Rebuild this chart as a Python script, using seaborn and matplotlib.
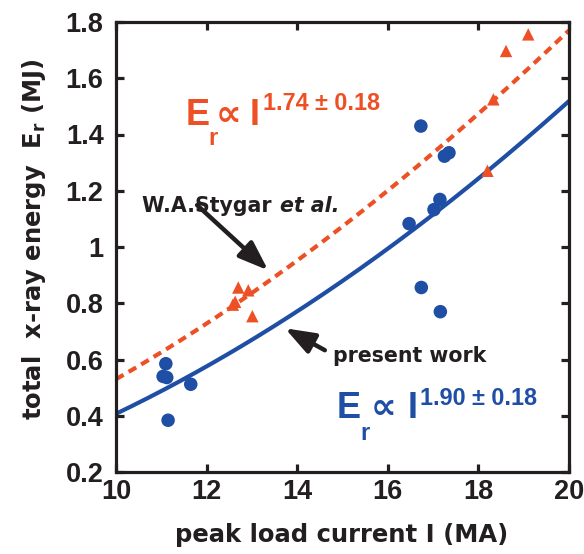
import numpy as np
import pandas as pd
import matplotlib
matplotlib.use("Agg")
import matplotlib.pyplot as plt
import seaborn as sns

# ---- data -------------------------------------------------------------
# present work (blue circles): peak load current (MA), total x-ray energy (MJ)
present_I = [11.10, 11.04, 11.12, 11.65, 11.15, 16.47, 16.73, 17.02, 17.15,
             17.25, 17.35, 16.74, 17.16]
present_E = [0.585, 0.540, 0.536, 0.512, 0.384, 1.083, 1.430, 1.133, 1.169,
             1.323, 1.335, 0.856, 0.770]

# W.A.Stygar et al. (orange triangles)
stygar_I = [12.70, 12.92, 12.63, 12.58, 13.01, 18.20, 18.33, 18.61, 19.10]
stygar_E = [0.856, 0.846, 0.805, 0.795, 0.754, 1.271, 1.525, 1.697, 1.756]

# power-law fits E = E(10 MA) * (I / 10)^n
present_exp, present_err, present_E10 = 1.90, 0.18, 0.407
stygar_exp, stygar_err, stygar_E10 = 1.74, 0.18, 0.53

x_ticks = [10, 12, 14, 16, 18, 20]
y_ticks = [0.2, 0.4, 0.6, 0.8, 1.0, 1.2, 1.4, 1.6, 1.8]
y_tick_labels = ["0.2", "0.4", "0.6", "0.8", "1", "1.2", "1.4", "1.6", "1.8"]

BLUE = "#1f4ea5"
ORANGE = "#ee5026"
INK = "#231f20"

# ---- figure -----------------------------------------------------------
sns.set_style("ticks")
plt.rcParams["font.family"] = ["DejaVu Sans"]
plt.rcParams["font.weight"] = "bold"

W, H = 584, 554
fig = plt.figure(figsize=(W / 100, H / 100), dpi=100)
ax = fig.add_axes([116 / W, 1 - 472 / H, (569 - 116) / W, (472 - 22) / H])

I_grid = np.linspace(10, 20, 200)
fits = pd.DataFrame({
    "I": np.concatenate([I_grid, I_grid]),
    "E": np.concatenate([present_E10 * (I_grid / 10) ** present_exp,
                         stygar_E10 * (I_grid / 10) ** stygar_exp]),
    "fit": ["present"] * len(I_grid) + ["stygar"] * len(I_grid),
})

sns.lineplot(data=fits[fits.fit == "present"], x="I", y="E", color=BLUE,
             lw=3.0, ax=ax, legend=False, zorder=2)
sns.lineplot(data=fits[fits.fit == "stygar"], x="I", y="E", color=ORANGE,
             lw=3.0, ax=ax, legend=False, zorder=2, dashes=False,
             linestyle=(0, (2.1, 1.4)))

sns.scatterplot(x=present_I, y=present_E, color=BLUE, s=95, marker="o",
                edgecolor="none", ax=ax, zorder=3)
sns.scatterplot(x=stygar_I, y=stygar_E, color=ORANGE, s=80, marker="^",
                edgecolor="none", ax=ax, zorder=3)

# ---- axes -------------------------------------------------------------
ax.set_xlim(10, 20)
ax.set_ylim(0.2, 1.8)
ax.set_xticks(x_ticks)
ax.set_yticks(y_ticks)
ax.set_yticklabels(y_tick_labels)
for s in ax.spines.values():
    s.set_visible(True)
    s.set_linewidth(2.3)
    s.set_color(INK)
ax.tick_params(which="both", direction="in", length=6, width=2.3, color=INK,
               top=True, right=True, labelcolor=INK)
ax.tick_params(axis="x", pad=5)
ax.tick_params(axis="y", pad=9)
for lab in ax.get_xticklabels() + ax.get_yticklabels():
    lab.set_fontfamily(["Liberation Sans", "DejaVu Sans"])
    lab.set_fontweight("bold")
    lab.set_fontsize(19.5)

ax.set_xlabel("peak load current I (MA)", fontsize=17.5, fontweight="bold",
              color=INK, va="top")
ax.xaxis.set_label_coords(0.497, -0.113)
ax.set_ylabel(r"total  x-ray energy  E$_{\mathbf{r}}$ (MJ)", fontsize=17.5,
              fontweight="bold", color=INK)
ax.yaxis.set_label_coords(-0.15, 0.518)

# ---- annotations ------------------------------------------------------
arrow = dict(arrowstyle="-|>,head_length=0.9,head_width=0.33", lw=3.2,
             color=INK, shrinkA=0, shrinkB=0, mutation_scale=20)
ax.annotate("", xy=(13.36, 0.917), xytext=(11.79, 1.149), arrowprops=arrow)
ax.annotate("", xy=(13.73, 0.711), xytext=(14.61, 0.633), arrowprops=arrow)

ax.text(10.57, 1.124, "W.A.Stygar ", fontsize=14.8, fontweight="bold",
        color=INK, ha="left", va="baseline")
ax.annotate("et al.", xy=(10.57, 1.124), xytext=(138, 0),
            textcoords="offset pixels", fontsize=14.8, fontweight="bold",
            fontstyle="italic", color=INK, ha="left", va="baseline")
ax.text(14.79, 0.590, "present work", fontsize=14.8, fontweight="bold",
        color=INK, ha="left", va="baseline")


def power_law_label(x, y, exponent, err, color, offsets):
    """Write E_r ∝ I^(n ± err) from pieces anchored at a data point."""
    fam = ["Liberation Sans", "DejaVu Sans"]
    pieces = [("E", 26), ("r", 17), ("\u221d", 26), ("I", 26),
              (f"{exponent:.2f} \u00b1 {err:.2f}", 16.8)]
    for (txt, size), (dx, dy) in zip(pieces, offsets):
        ax.annotate(txt, xy=(x, y), xytext=(dx, dy),
                    textcoords="offset pixels", fontsize=size,
                    fontweight="bold", family=fam, color=color,
                    ha="left", va="baseline")


power_law_label(11.545, 1.433, stygar_exp, stygar_err, ORANGE,
                [(0, 0), (22, -20), (30, 0), (64, 0), (77, 15)])
power_law_label(14.88, 0.391, present_exp, present_err, BLUE,
                [(0, 0), (23, -22), (34, 0), (71, 0), (83, 13)])

fig.savefig("out.png", dpi=100, facecolor="white")
